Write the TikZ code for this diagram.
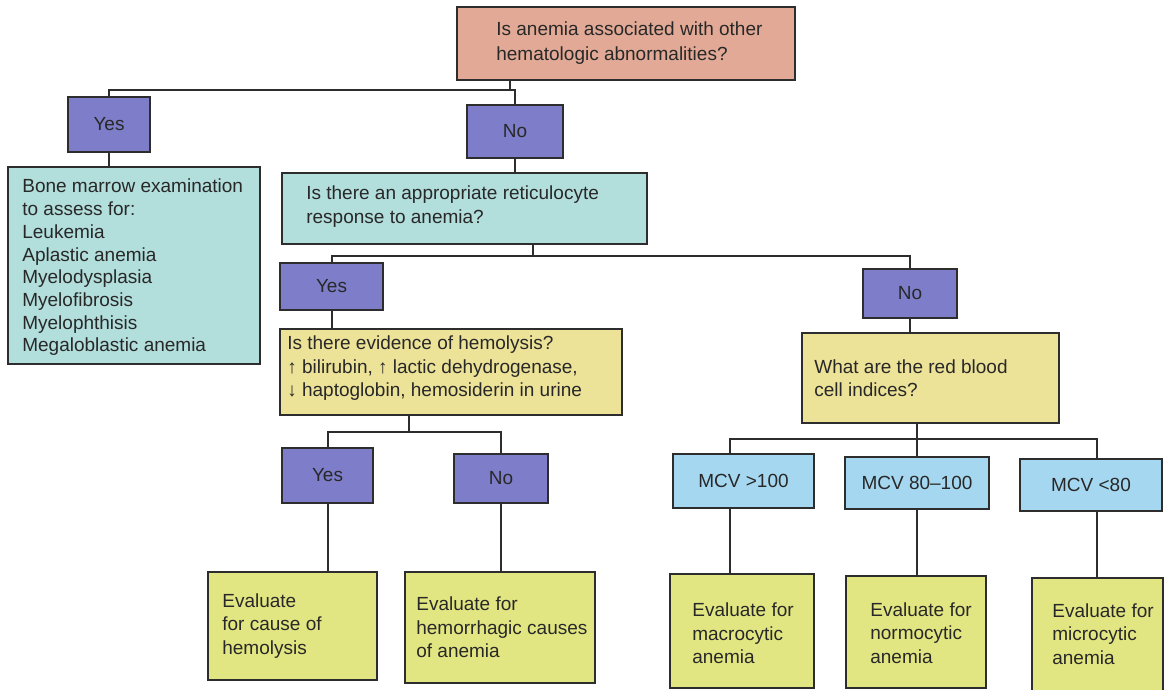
\documentclass[tikz,border=0pt]{standalone}
\usepackage{fontspec}
\setmainfont{Liberation Sans}
\definecolor{salmonc}{RGB}{226,170,150}
\definecolor{purplec}{RGB}{125,125,202}
\definecolor{tealc}{RGB}{178,222,220}
\definecolor{yellowc}{RGB}{236,226,152}
\definecolor{evalc}{RGB}{226,230,130}
\definecolor{bluec}{RGB}{165,216,240}
\definecolor{borderc}{RGB}{45,45,45}
\definecolor{textc}{RGB}{40,40,40}
\begin{document}
\begin{tikzpicture}[x=1pt,y=-1pt,
  box/.style={draw=borderc, line width=1.7pt, inner sep=0pt, text=textc,
    font=\fontsize{19}{23.5}\selectfont},
  txt/.style={anchor=west, align=left, inner sep=0pt, text=textc,
    font=\fontsize{19}{23.5}\selectfont},
  conn/.style={draw=borderc, line width=2pt}]
\useasboundingbox (0,0) rectangle (1165,690);
\fill[white] (0,0) rectangle (1165,690);

% boxes
\node[box, fill=salmonc, minimum width=338pt, minimum height=73pt] (top) at (626,43.5) {};
\node[txt, font=\fontsize{19}{25}\selectfont] (topt) at ([xshift=40pt]top.west) {Is anemia associated with other\\hematologic abnormalities?};

\node[box, fill=purplec, minimum width=82pt, minimum height=55pt] (yes1) at (109,124.5) {Yes};
\node[box, fill=tealc, minimum width=252pt, minimum height=197pt] (bm) at (134,265.5) {};
\node[txt, font=\fontsize{19}{22.7}\selectfont] (bmt) at ([xshift=15pt,yshift=-2pt]bm.west) {Bone marrow examination\\to assess for:\\Leukemia\\Aplastic anemia\\Myelodysplasia\\Myelofibrosis\\Myelophthisis\\Megaloblastic anemia};

\node[box, fill=purplec, minimum width=96pt, minimum height=53pt] (no1) at (515,131.5) {No};
\node[box, fill=tealc, minimum width=365pt, minimum height=71pt] (ret) at (464.5,208.5) {};
\node[txt] (rett) at ([xshift=25pt,yshift=2pt]ret.west) {Is there an appropriate reticulocyte\\response to anemia?};

\node[box, fill=purplec, minimum width=103pt, minimum height=47pt] (yes2) at (331.5,286.5) {Yes};
\node[box, fill=yellowc, minimum width=342pt, minimum height=86pt] (hem) at (451,372) {};
\node[txt] (hemt) at ([xshift=8pt,yshift=3.5pt]hem.west) {Is there evidence of hemolysis?\\↑ bilirubin, ↑ lactic dehydrogenase,\\↓ haptoglobin, hemosiderin in urine};
\node[box, fill=purplec, minimum width=94pt, minimum height=49pt] (no2) at (910,293.5) {No};
\node[box, fill=yellowc, minimum width=257pt, minimum height=90pt] (rbc) at (930.5,378) {};
\node[txt] (rbct) at ([xshift=13pt]rbc.west) {What are the red blood\\cell indices?};

\node[box, fill=purplec, minimum width=91pt, minimum height=55pt] (yes3) at (327.5,475.5) {Yes};
\node[box, fill=purplec, minimum width=94pt, minimum height=49pt] (no3) at (501,478.5) {No};
\node[box, fill=evalc, minimum width=169pt, minimum height=108pt] (evc) at (292.5,626) {};
\node[txt] (evct) at ([xshift=15pt]evc.west) {Evaluate\\for cause of\\hemolysis};
\node[box, fill=evalc, minimum width=190pt, minimum height=111pt] (evh) at (500,627.5) {};
\node[txt] (evht) at ([xshift=12pt]evh.west) {Evaluate for\\hemorrhagic causes\\of anemia};

\node[box, fill=bluec, minimum width=141pt, minimum height=54pt] (m1) at (743.5,481) {MCV >100};
\node[box, fill=bluec, minimum width=144pt, minimum height=52pt] (m2) at (917,483) {MCV 80–100};
\node[box, fill=bluec, minimum width=142pt, minimum height=52pt] (m3) at (1091,485) {MCV <80};
\node[box, fill=evalc, minimum width=144pt, minimum height=114pt] (e1) at (742,631) {};
\node[txt] (e1t) at ([xshift=23pt,yshift=-2.5pt]e1.west) {Evaluate for\\macrocytic\\anemia};
\node[box, fill=evalc, minimum width=140pt, minimum height=112pt] (e2) at (916,632) {};
\node[txt] (e2t) at ([xshift=25pt,yshift=-1pt]e2.west) {Evaluate for\\normocytic\\anemia};
\node[box, fill=evalc, minimum width=131pt, minimum height=114pt] (e3) at (1097.5,635) {};
\node[txt] (e3t) at ([xshift=21pt,yshift=1pt]e3.west) {Evaluate for\\microcytic\\anemia};

% junctions
\coordinate (j1) at (510,90);
\coordinate (j2) at (533,256);
\coordinate (j3) at (409,432);
\coordinate (j4) at (917,439);
\coordinate (k1) at (730,439);
\coordinate (k3) at (1097,439);

% connectors
\draw[conn] (j1 |- top.south) -- (j1);
\draw[conn] (yes1.north) |- (no1.north |- j1) -- (no1.north);
\draw[conn] (yes1.south) -- (yes1.south |- bm.north);
\draw[conn] (no1.south) -- (no1.south |- ret.north);
\draw[conn] (j2 |- ret.south) -- (j2);
\draw[conn] (yes2.north) |- (no2.north |- j2) -- (no2.north);
\draw[conn] (yes2.south) -- (yes2.south |- hem.north);
\draw[conn] (j3 |- hem.south) -- (j3);
\draw[conn] (yes3.north) |- (no3.north |- j3) -- (no3.north);
\draw[conn] (yes3.south) -- (yes3.south |- evc.north);
\draw[conn] (no3.south) -- (no3.south |- evh.north);
\draw[conn] (no2.south) -- (no2.south |- rbc.north);
\draw[conn] (j4 |- rbc.south) -- (j4 |- m2.north);
\draw[conn] (k1 |- m1.north) -- (k1) -- (k3) -- (k3 |- m3.north);
\draw[conn] (k1 |- m1.south) -- (k1 |- e1.north);
\draw[conn] (j4 |- m2.south) -- (j4 |- e2.north);
\draw[conn] (k3 |- m3.south) -- (k3 |- e3.north);
\end{tikzpicture}
\end{document}
